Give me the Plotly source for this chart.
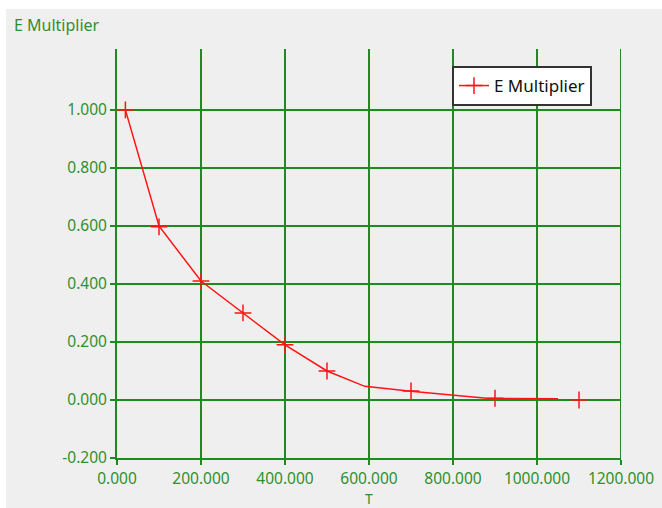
import plotly.graph_objects as go

# Smooth response curve for the E multiplier against T
T_line = [20, 100, 200, 300, 400, 500, 590, 700, 800, 880, 1050]
E_line = [1.0, 0.6, 0.41, 0.30, 0.19, 0.10, 0.047, 0.03, 0.017, 0.006, 0.004]

# Sampled points shown with cross markers
T_pts = [20, 100, 200, 300, 400, 500, 700, 900, 1100]
E_pts = [1.0, 0.597, 0.41, 0.30, 0.19, 0.10, 0.031, 0.006, 0.0]

x_ticks = [0, 200, 400, 600, 800, 1000, 1200]
y_ticks = [-0.2, 0.0, 0.2, 0.4, 0.6, 0.8, 1.0]
x_labels = [f"{v:.3f}" for v in x_ticks]
y_labels = [f"{v:.3f}" for v in y_ticks]

GREEN = "#1f8a1f"
TEXT_GREEN = "#2f8f2f"
RED = "#ff1414"
BG = "#efefef"
FONT = "Noto Sans, Open Sans, sans-serif"

fig = go.Figure()

fig.add_trace(go.Scatter(
    x=T_line, y=E_line, mode="lines",
    line=dict(color=RED, width=1.5),
    showlegend=False, hoverinfo="skip",
))
fig.add_trace(go.Scatter(
    x=T_pts, y=E_pts, mode="markers",
    marker=dict(symbol="cross-thin", size=12, line=dict(color=RED, width=1.5)),
    showlegend=False,
))
# Legend entry: line with cross marker
fig.add_trace(go.Scatter(
    x=[None], y=[None], mode="lines+markers", name="E Multiplier",
    line=dict(color=RED, width=1.5),
    marker=dict(symbol="cross-thin", size=12, line=dict(color=RED, width=1.5)),
))

L, R, T, B = 117, 41, 49, 50
W, H = 662, 508
pw, ph = W - L - R, H - T - B

def px_x(px):
    return (px - L) / pw

def px_y(py):
    return (H - B - py) / ph

axis_common = dict(
    showgrid=True, gridcolor=GREEN, gridwidth=2,
    showline=True, linecolor=GREEN, linewidth=2,
    ticks="outside", ticklen=5, tickwidth=2, tickcolor=GREEN,
    tickfont=dict(family=FONT, size=15.5, color=TEXT_GREEN),
    zeroline=False, automargin=False,
)

fig.update_xaxes(range=[0, 1200], tickvals=x_ticks, ticktext=x_labels, **axis_common)
fig.update_yaxes(range=[-0.2, 1.21], tickvals=y_ticks, ticktext=y_labels, **axis_common)

fig.update_layout(
    width=W, height=H,
    margin=dict(l=L, r=R, t=T, b=B),
    paper_bgcolor="white",
    plot_bgcolor=BG,
    font=dict(family=FONT),
    shapes=[
        dict(type="rect", xref="paper", yref="paper", layer="below",
             x0=px_x(6), x1=px_x(W + 5), y0=px_y(H + 5), y1=px_y(9),
             fillcolor=BG, line=dict(width=0)),
        # right-hand boundary at T = 1200
        dict(type="line", xref="x", yref="paper", x0=1200, x1=1200, y0=0, y1=1,
             line=dict(color=GREEN, width=2)),
    ],
    legend=dict(
        x=px_x(452), y=px_y(66), xanchor="left", yanchor="top",
        bgcolor="white", bordercolor="#333333", borderwidth=2,
        font=dict(family=FONT, size=17, color="#111111"),
        itemwidth=30,
    ),
    annotations=[
        dict(text="E Multiplier", xref="paper", yref="paper",
             x=px_x(12), y=px_y(25), xanchor="left", yanchor="middle",
             showarrow=False, font=dict(family=FONT, size=16, color=TEXT_GREEN)),
        dict(text="T", xref="paper", yref="paper",
             x=px_x(369), y=px_y(498.5), xanchor="center", yanchor="middle",
             showarrow=False, font=dict(family=FONT, size=14, color=TEXT_GREEN)),
    ],
)

fig.write_html("out.html")
